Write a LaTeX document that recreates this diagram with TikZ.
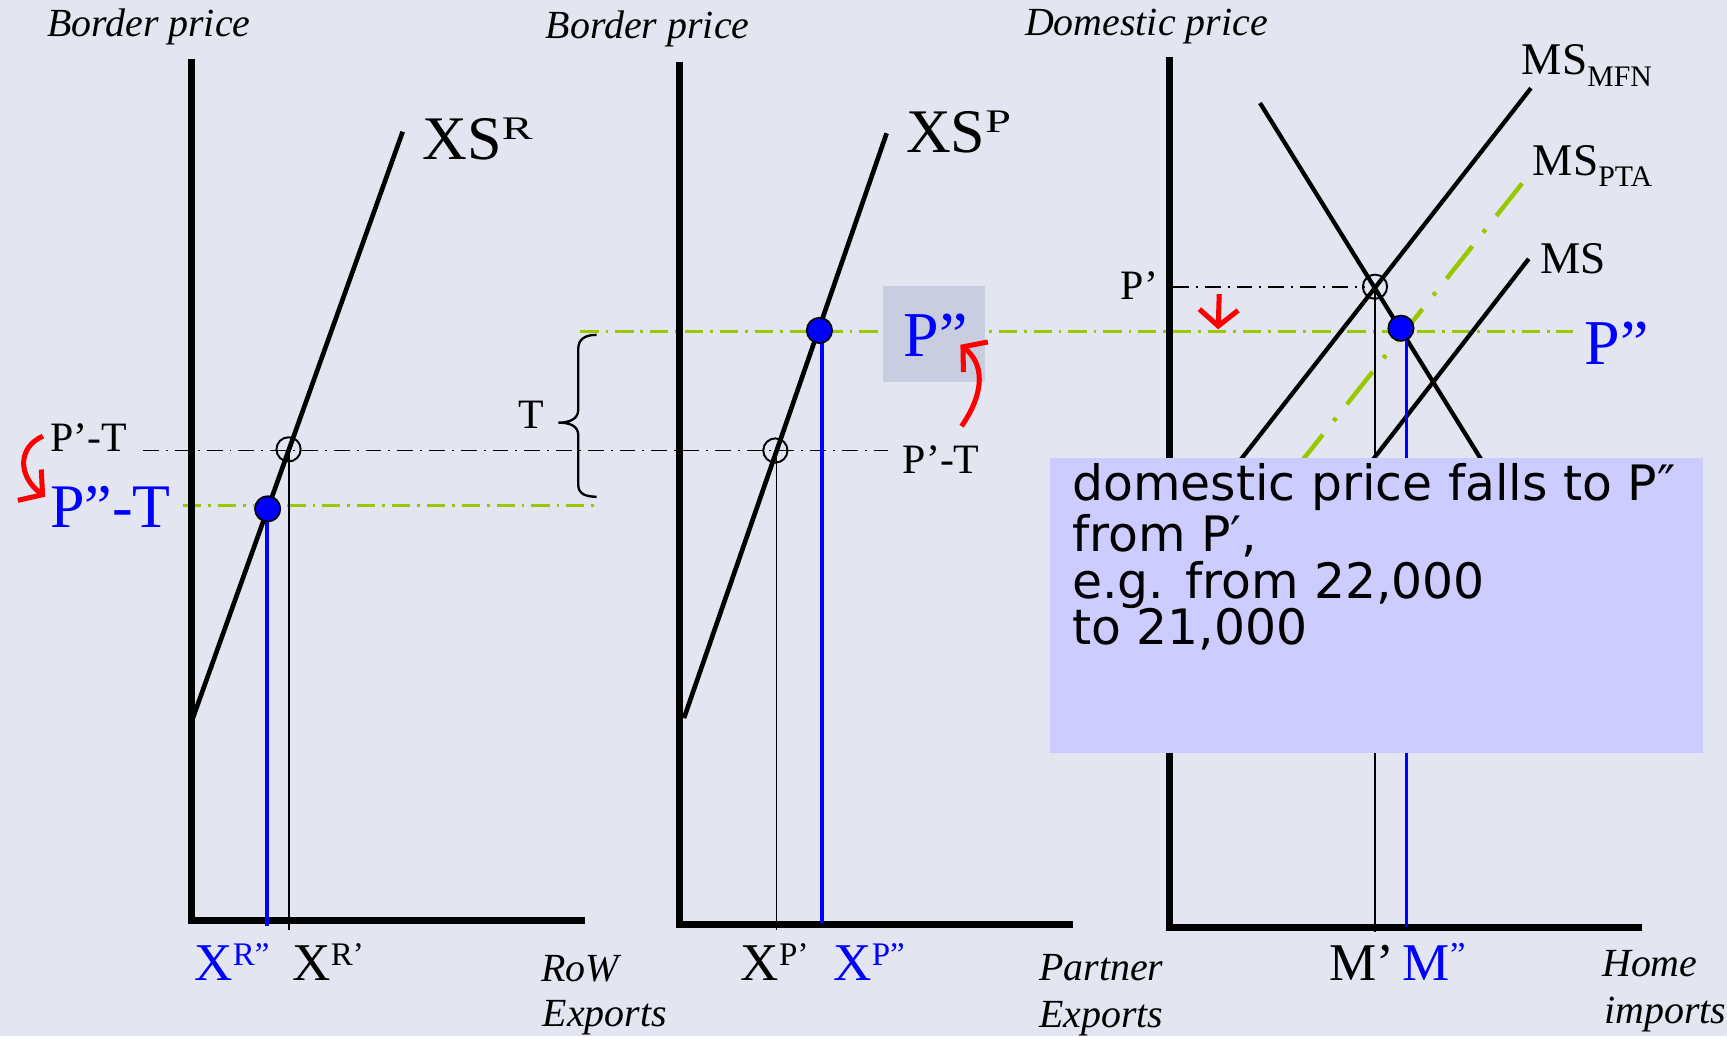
\documentclass[tikz,border=0pt]{standalone}
\usepackage{fontspec}
\usepackage{graphicx}
\setmainfont{Liberation Serif}
\newfontfamily\boxfont{DejaVu Sans}
\usetikzlibrary{arrows.meta}
\definecolor{bg}{RGB}{227,229,240}
\definecolor{ggreen}{RGB}{153,200,0}
\definecolor{pbox}{RGB}{200,206,224}
\definecolor{notebox}{RGB}{204,204,255}
\newcommand{\fs}[1]{\fontsize{#1}{#1}\selectfont}
\newcommand{\supr}[3]{\raisebox{#1}{\fs{#2}#3}}
\newcommand{\wsupr}[3]{\raisebox{#1}{\scalebox{1.4}[1]{\fs{#2}#3}}}
\begin{document}
\begin{tikzpicture}[x=0.01cm,y=-0.01cm,
  lbl/.style={inner sep=0pt, anchor=base west},
  axisline/.style={line width=1.8pt, line join=miter},
  curve/.style={line width=1.2pt},
  thinv/.style={line width=0.5pt},
  bluev/.style={blue, line width=1pt},
  blackdd/.style={line width=0.5pt, dash pattern=on 4.1pt off 1.8pt on 0.5pt off 1.8pt},
  greendd/.style={ggreen, line width=0.65pt, dash pattern=on 4.7pt off 1.8pt on 0.7pt off 1.8pt},
  ptadd/.style={ggreen, line width=1.15pt, dash pattern=on 10.7pt off 4.5pt on 1pt off 4.5pt},
  opendot/.style={circle, draw=black, line width=0.5pt, minimum size=0.22cm, inner sep=0pt},
  bluedot/.style={circle, draw=black, fill=blue, line width=0.45pt, minimum size=0.23cm, inner sep=0pt},
  redarr/.style={red, line width=1.3pt, -{Straight Barb[length=4.2pt,width=10pt]}},
  ital/.style={lbl, font=\itshape\fs{10.3}},
  small/.style={lbl, font=\fs{10.8}},
  big/.style={lbl, font=\fs{16.5}, text=blue},
  qty/.style={lbl, font=\fs{13.7}},
  ms/.style={lbl, font=\fs{11.7}}
]
\fill[bg] (0,0) rectangle (1568,941);
\useasboundingbox (0,0) rectangle (1568,941);

% ---------- guide lines ----------
\coordinate (g1a) at (166,459);  \coordinate (g1b) at (540,459);
\coordinate (g2a) at (527,301);  \coordinate (g2b) at (1428,301);
\coordinate (k1a) at (130,409);  \coordinate (k1b) at (806,409);
\coordinate (k2a) at (1065,260.3); \coordinate (k2b) at (1239,260.3);
\draw[greendd] (g1a) -- (g1b);
\draw[greendd] (g2a) -- (g2b);
\draw[blackdd] (k1a) -- (k1b);
\draw[blackdd] (k2a) -- (k2b);

% grey box behind P''
\node[fill=pbox, minimum width=0.93cm, minimum height=0.87cm, anchor=north west, inner sep=0pt] (pbx) at (801,259) {};

% ---------- axes ----------
\coordinate (y1) at (174,54);   \coordinate (o1) at (174,836);  \coordinate (x1) at (531,836);
\coordinate (y2) at (617,56);   \coordinate (o2) at (617,839);  \coordinate (x2) at (974,839);
\coordinate (y3) at (1062,52);  \coordinate (o3) at (1062,842); \coordinate (x3) at (1491,842);
\draw[axisline] (y1) -- (o1) -- (x1);
\draw[axisline] (y2) -- (o2) -- (x2);
\draw[axisline] (y3) -- (o3) -- (x3);

% ---------- supply curves ----------
\coordinate (xsr0) at (174,655);   \coordinate (xsr1) at (365.6,119.6);
\coordinate (xsp0) at (621,652);   \coordinate (xsp1) at (805,121);
\draw[curve] (xsr0) -- (xsr1);
\draw[curve] (xsp0) -- (xsp1);

% panel 3 curves
\coordinate (md0) at (1144,93.5);  \coordinate (md1) at (1359,440);
\coordinate (mfn0) at (1390,80);   \coordinate (mfn1) at (1108.8,440);
\coordinate (pta0) at (1382,166.5); \coordinate (pta1) at (1165,440);
\coordinate (ms0) at (1388,235);   \coordinate (ms1) at (1228.9,440);
\draw[curve, line width=1.1pt] (md0) -- (md1);
\draw[curve, line width=1.1pt] (mfn0) -- (mfn1);
\draw[ptadd] (pta0) -- (pta1);
\draw[curve, line width=1.1pt] (ms0) -- (ms1);

% ---------- verticals ----------
\coordinate (v1a) at (262.4,409); \coordinate (v1b) at (262.4,844);
\coordinate (b1a) at (242.5,463); \coordinate (b1b) at (242.5,841);
\coordinate (v2a) at (705,409);   \coordinate (v2b) at (705,844);
\coordinate (b2a) at (746,300);   \coordinate (b2b) at (746,838);
\coordinate (v3a) at (1248.4,260.3); \coordinate (v3b) at (1248.4,846);
\coordinate (b3a) at (1277,298);  \coordinate (b3b) at (1277,842);
\draw[thinv] (v1a) -- (v1b);
\draw[bluev] (b1a) -- (b1b);
\draw[thinv] (v2a) -- (v2b);
\draw[bluev] (b2a) -- (b2b);
\draw[thinv] (v3a) -- (v3b);
\draw[bluev] (b3a) -- (b3b);

% ---------- points ----------
\node[opendot] (c1) at (262,408) {};
\node[bluedot] (d1) at (243,462) {};
\node[opendot] (c2) at (704,409) {};
\node[bluedot] (d2) at (744,300) {};
\node[opendot] (c3) at (1248.4,260.3) {};
\node[bluedot] (d3) at (1272,298) {};

% brace
\draw[line width=0.6pt] (541.7,304) .. controls (531,304) and (525,308) .. (525,317)
  -- (525,372) .. controls (525,380) and (518,383.7) .. (507,383.7)
  .. controls (518,383.7) and (525,387) .. (525,395)
  -- (525,440) .. controls (525,448) and (531,451) .. (541.7,451);

% ---------- labels ----------
\node[ital] (bp1) at (42,33) {Border price};
\node[ital] (bp2) at (495,35) {Border price};
\node[ital] (dp3) at (930,32) {Domestic price};

\node[lbl, font=\fs{16}] (xsrl) at (383,145) {XS\wsupr{5.1pt}{8.5}{R}};
\node[lbl, font=\fs{16}] (xspl) at (822,138) {XS\wsupr{5.1pt}{8.5}{P}};

\node[small] (pt1) at (45,410) {P’-T};
\node[big, font=\fs{16}] (ppt1) at (45,479) {P”-T};
\node[small] (tl) at (470,389) {T};
\node[small] (pt2) at (819,430) {P’-T};
\node[big] (pp2) at (820,324) {P”};
\node[small] (p3) at (1017,272) {P’};
\node[big] (pp3) at (1438,331) {P”};

\node[ms] (msmfn) at (1381,68) {MS\supr{-3pt}{7.7}{MFN}};
\node[ms] (mspta) at (1391,159) {MS\supr{-3pt}{7.7}{PTA}};
\node[ms] (msl) at (1398,248) {MS};

\node[qty, text=blue] (xr2) at (176,890) {X\supr{3.9pt}{8.5}{R”}};
\node[qty] (xr1) at (265,890) {X\supr{3.9pt}{8.5}{R’}};
\node[qty] (xp1) at (672,890) {X\supr{3.9pt}{8.5}{P’}};
\node[qty, text=blue] (xp2) at (756,890) {X\supr{3.9pt}{8.5}{P”}};
\node[qty] (m1) at (1206,890) {M’};
\node[qty, text=blue] (m2) at (1273,890) {M\supr{3.5pt}{9}{”}};

\node[ital] (row) at (491,891) {RoW};
\node[ital] (rowe) at (492,932) {Exports};
\node[ital] (par) at (943,890) {Partner};
\node[ital] (pare) at (943,933) {Exports};
\node[ital] (home) at (1454,887) {Home};
\node[ital] (homei) at (1456,929) {imports};

% ---------- note box ----------
\node[fill=notebox, minimum width=5.92cm, minimum height=2.68cm, anchor=north west, inner sep=0pt] (note) at (953,415) {};
\node[lbl, font=\boxfont\fontsize{12.6}{12.06}\selectfont, align=left] (notetext) at (973,585.6)
  {domestic price falls to P″\\from P′,\\e.g. from 22,000\\to 21,000};

% ---------- red arrows ----------
\coordinate (ra1s) at (39,396);   \coordinate (ra1e) at (41,451);
\coordinate (ra2s) at (873,387);  \coordinate (ra2e) at (872,313);
\coordinate (ra3s) at (1107,267); \coordinate (ra3e) at (1106,299);
\draw[redarr] (ra1s) .. controls (16,406) and (16,432) .. (ra1e);
\draw[redarr] (ra2s) .. controls (895,355) and (893,330) .. (ra2e);
\draw[redarr] (ra3s) -- (ra3e);
\end{tikzpicture}
\end{document}
